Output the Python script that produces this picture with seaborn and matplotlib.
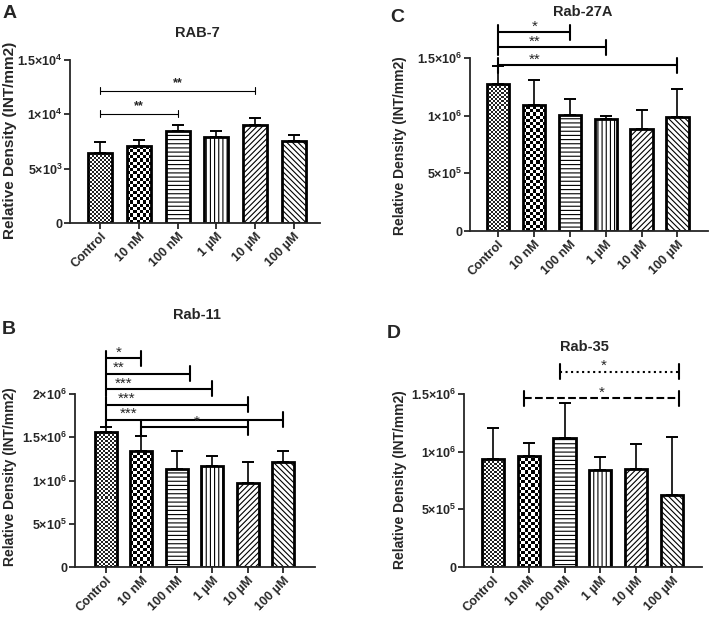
import numpy as np
import pandas as pd
import matplotlib
matplotlib.use('Agg')
import matplotlib.pyplot as plt
import seaborn as sns
from matplotlib.colors import ListedColormap

sns.set_style('ticks')
plt.rcParams['font.family'] = ['Liberation Sans', 'DejaVu Sans']
plt.rcParams['hatch.linewidth'] = 0.8
plt.rcParams['mathtext.fontset'] = 'custom'
plt.rcParams['mathtext.bf'] = 'Liberation Sans:bold'
plt.rcParams['mathtext.rm'] = 'Liberation Sans:bold'

# data
categories = ['Control', '10 nM', '100 nM', '1 µM', '10 µM', '100 µM']

rab7_mean = [6430, 7100, 8510, 7900, 9000, 7560]
rab7_sd = [1070, 550, 520, 610, 640, 550]

rab27a_mean = [1.278e6, 1.090e6, 1.010e6, 0.969e6, 0.888e6, 0.992e6]
rab27a_sd = [0.153e6, 0.222e6, 0.138e6, 0.029e6, 0.159e6, 0.243e6]

rab11_mean = [1.561e6, 1.337e6, 1.133e6, 1.168e6, 0.975e6, 1.218e6]
rab11_sd = [0.054e6, 0.174e6, 0.204e6, 0.119e6, 0.235e6, 0.119e6]

rab35_mean = [0.935e6, 0.966e6, 1.122e6, 0.842e6, 0.848e6, 0.626e6]
rab35_sd = [0.268e6, 0.113e6, 0.303e6, 0.116e6, 0.216e6, 0.505e6]

# significance brackets: (from, to, height, label, label x, line style)
rab7_sig = [(0, 2, 10040, '**', 1.0, '-'), (0, 4, 12180, '**', 2.0, '-')]
rab27a_sig = [(0, 2, 1.725e6, '*', 1.03, '-'), (0, 3, 1.595e6, '**', 1.03, '-'),
              (0, 5, 1.437e6, '**', 1.03, '-')]
rab11_sig = [(0, 1, 2.416e6, '*', 0.35, '-'), (0, 2.37, 2.235e6, '**', 0.36, '-'),
             (0, 3, 2.058e6, '***', 0.51, '-'), (0, 4, 1.877e6, '***', 0.58, '-'),
             (0, 5, 1.703e6, '***', 0.63, '-'), (1, 4, 1.618e6, '*', 2.55, '-')]
rab35_sig = [(0.88, 5.19, 1.4625e6, '*', 3.05, '--'), (1.87, 5.21, 1.693e6, '*', 3.1, ':')]

W, H = 709, 623
fig = plt.figure(figsize=(W / 100, H / 100), dpi=100)

hatches = [None, None, '----', '||||', '//////', '\\\\\\\\\\\\']


def px_axes(l, r, t, b):
    return fig.add_axes([l / W, 1 - b / H, (r - l) / W, (b - t) / H])


def checker(ax, patch, cell, color):
    bb = patch.get_window_extent()
    nx = int(bb.width / cell) + 2
    ny = int(bb.height / cell) + 2
    arr = np.add.outer(np.arange(ny), np.arange(nx)) % 2
    dx = patch.get_width() / bb.width
    dy = patch.get_height() / bb.height
    x0, y0 = patch.get_x(), patch.get_y()
    im = ax.imshow(arr, cmap=ListedColormap(['white', color]), origin='lower',
                   extent=(x0, x0 + nx * cell * dx, y0, y0 + ny * cell * dy),
                   interpolation='nearest', aspect='auto', zorder=0.5)
    im.set_clip_path(patch)
    patch.set_facecolor('none')


def sci(s):
    # "1.5x10^6" style tick label
    if s == '0':
        return '0'
    m, e = s.split('e')
    return m + '×10$^{\\mathbf{' + e + '}}$'


def panel(box, xlim, means, sds, ymax, yticks, ylabels, sig, thin, tick_px):
    ax = px_axes(*box)
    df = pd.DataFrame({'dose': categories, 'density': means})
    sns.barplot(data=df, x='dose', y='density', ax=ax, color='white', saturation=1,
                edgecolor='black', linewidth=2.0, width=0.62, errorbar=None, zorder=1)
    ax.errorbar(range(len(means)), means, yerr=[np.zeros(len(sds)), sds], fmt='none',
                ecolor='black', elinewidth=1.2, capsize=4.5, capthick=1.4, zorder=0.9)
    ax.set_xlim(*xlim)
    ax.set_ylim(0, ymax)
    ax.set_yticks(yticks)
    ax.set_yticklabels([sci(t) for t in ylabels], fontsize=9, fontweight='bold')
    ax.set_xticks(range(len(categories)))
    ax.set_xticklabels(categories, fontsize=9, fontweight='bold', rotation=45,
                       ha='right', rotation_mode='anchor')
    ax.set_xlabel('')
    ax.set_ylabel('')
    sns.despine(ax=ax)
    for s in ['left', 'bottom']:
        ax.spines[s].set_linewidth(1.3)
    ax.tick_params(width=1.3, length=4, pad=1.5)
    for p, h in zip(ax.patches, hatches):
        if h:
            p.set_hatch(h)
    checker(ax, ax.patches[0], 2.0, '#222222')
    checker(ax, ax.patches[1], 3.2, 'black')
    ax.set_xlim(*xlim)
    ax.set_ylim(0, ymax)
    per_px = ymax / (box[3] - box[2])
    dy = tick_px * per_px
    lw = 0.8 if thin else 1.5
    for x1, x2, y, lab, lx, ls in sig:
        ax.plot([x1, x2], [y, y], color='black', lw=lw, ls=ls, clip_on=False)
        for xe in (x1, x2):
            ax.plot([xe, xe], [y - dy, y + dy], color='black', lw=lw, clip_on=False)
        if thin:
            ax.text(lx, y + 1.5 * per_px, lab, ha='center', va='bottom', fontsize=9,
                    fontweight='bold', clip_on=False)
        else:
            ax.text(lx, y + 1.5 * per_px, lab, ha='center', va='baseline', fontsize=11,
                    clip_on=False)
    return ax


panel((70, 320, 60, 223), (-0.78, 5.68), rab7_mean, rab7_sd, 1.5e4,
      [0, 5e3, 1e4, 1.5e4], ['0', '5e3', '1e4', '1.5e4'], rab7_sig, True, 3.5)
panel((470, 708, 58, 231), (-0.78, 5.85), rab27a_mean, rab27a_sd, 1.5e6,
      [0, 5e5, 1e6, 1.5e6], ['0', '5e5', '1e6', '1.5e6'], rab27a_sig, False, 7.5)
panel((75, 315, 394, 567), (-0.87, 5.89), rab11_mean, rab11_sd, 2e6,
      [0, 5e5, 1e6, 1.5e6, 2e6], ['0', '5e5', '1e6', '1.5e6', '2e6'],
      rab11_sig, False, 7.5)
panel((464, 702, 394, 567), (-0.81, 5.84), rab35_mean, rab35_sd, 1.5e6,
      [0, 5e5, 1e6, 1.5e6], ['0', '5e5', '1e6', '1.5e6'], rab35_sig, False, 7.5)


def ftext(x, y, s, **kw):
    fig.text(x / W, 1 - y / H, s, fontweight='bold', **kw)


# titles, panel letters, y labels
ftext(197, 33, 'RAB-7', ha='center', va='center', fontsize=10.5)
ftext(583, 12, 'Rab-27A', ha='center', va='center', fontsize=10.5)
ftext(197, 315, 'Rab-11', ha='center', va='center', fontsize=10.5)
ftext(584, 347, 'Rab-35', ha='center', va='center', fontsize=10.5)
ftext(3, 13, 'A', ha='left', va='center', fontsize=14)
ftext(390, 17, 'C', ha='left', va='center', fontsize=14)
ftext(2, 330, 'B', ha='left', va='center', fontsize=14)
ftext(387, 334, 'D', ha='left', va='center', fontsize=14)
ylab = 'Relative Density (INT/mm2)'
ftext(10, 140, ylab, ha='center', va='center', rotation=90, fontsize=11)
ftext(400, 146, ylab, ha='center', va='center', rotation=90, fontsize=10)
ftext(10, 477, ylab, ha='center', va='center', rotation=90, fontsize=10)
ftext(400, 480, ylab, ha='center', va='center', rotation=90, fontsize=10)

fig.savefig('out.png', dpi=100)
